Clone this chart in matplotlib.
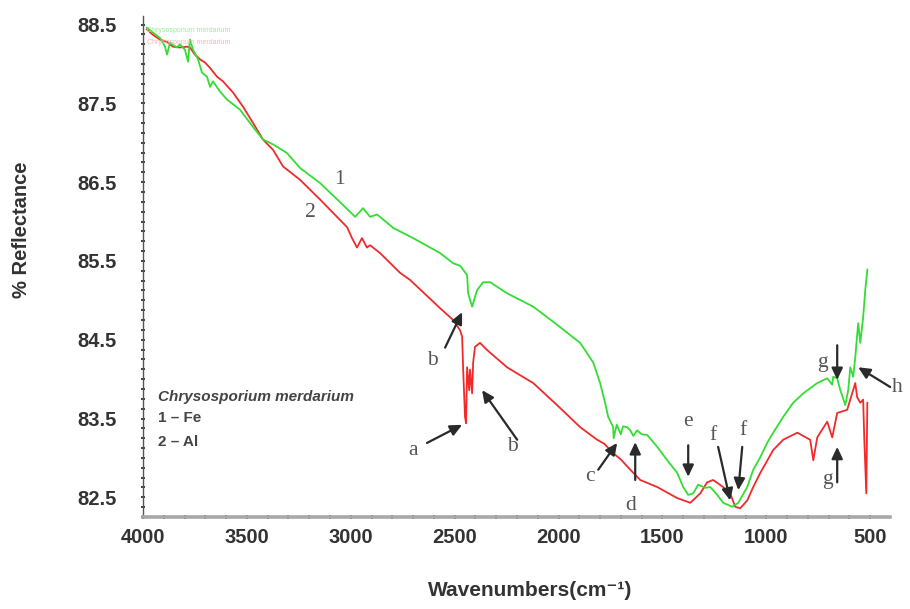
import matplotlib
matplotlib.use("Agg")
import matplotlib.pyplot as plt
from matplotlib.ticker import MultipleLocator

# ---- data ----
wn_fe = [3981, 3952, 3918, 3894, 3884, 3870, 3836, 3822, 3798, 3783, 3774, 3759, 3735, 3716,
         3692, 3677, 3663, 3629, 3596, 3533, 3470, 3422, 3374, 3307, 3244, 3148, 3037, 2979,
         2941, 2907, 2873, 2796, 2700, 2570, 2507, 2474, 2440, 2435, 2416, 2392, 2363, 2329,
         2248, 2122, 2007, 1896, 1833, 1800, 1776, 1761, 1737, 1735, 1720, 1700, 1690, 1670,
         1655, 1640, 1622, 1600, 1573, 1525, 1477, 1429, 1400, 1376, 1352, 1328, 1294, 1270,
         1236, 1208, 1164, 1135, 1092, 1063, 1029, 996, 967, 919, 871, 822, 755, 707, 683,
         678, 659, 644, 620, 606, 596, 582, 572, 558, 548, 534, 524, 514]
refl_fe = [88.46, 88.40, 88.33, 88.22, 88.12, 88.27, 88.21, 88.25, 88.18, 88.03, 88.31, 88.18,
           88.06, 87.89, 87.84, 87.71, 87.78, 87.65, 87.55, 87.42, 87.20, 87.04, 86.98, 86.87,
           86.68, 86.49, 86.21, 86.06, 86.17, 86.06, 86.09, 85.92, 85.79, 85.60, 85.47, 85.44,
           85.32, 85.09, 84.92, 85.13, 85.23, 85.23, 85.09, 84.92, 84.69, 84.46, 84.21, 83.95,
           83.70, 83.52, 83.39, 83.25, 83.42, 83.30, 83.40, 83.39, 83.35, 83.28, 83.35, 83.30,
           83.29, 83.14, 82.97, 82.81, 82.63, 82.53, 82.55, 82.66, 82.62, 82.63, 82.53, 82.43,
           82.38, 82.43, 82.63, 82.85, 83.01, 83.19, 83.32, 83.52, 83.70, 83.82, 83.95, 84.01,
           83.93, 84.03, 84.01, 83.86, 83.67, 83.86, 84.15, 84.03, 84.28, 84.71, 84.46, 84.79,
           85.13, 85.39]

wn_al = [3981, 3952, 3918, 3884, 3856, 3822, 3788, 3774, 3750, 3726, 3702, 3677, 3644, 3615,
         3567, 3519, 3470, 3422, 3374, 3326, 3244, 3148, 3018, 2994, 2970, 2946, 2922, 2907,
         2859, 2763, 2715, 2570, 2507, 2474, 2464, 2459, 2450, 2445, 2440, 2430, 2426, 2416,
         2411, 2402, 2378, 2344, 2248, 2122, 2007, 1896, 1850, 1814, 1780, 1737, 1700, 1655,
         1607, 1525, 1429, 1366, 1318, 1285, 1256, 1208, 1174, 1150, 1126, 1092, 1063, 1029,
         967, 919, 851, 789, 774, 755, 707, 683, 659, 611, 572, 563, 548, 534, 529, 519, 514]
refl_al = [88.44, 88.37, 88.31, 88.28, 88.22, 88.21, 88.22, 88.21, 88.12, 88.06, 88.02, 87.95,
           87.84, 87.78, 87.64, 87.46, 87.25, 87.04, 86.91, 86.70, 86.53, 86.28, 85.93, 85.79,
           85.67, 85.79, 85.67, 85.70, 85.60, 85.35, 85.26, 84.90, 84.75, 84.62, 84.54, 84.12,
           83.52, 83.44, 84.15, 83.86, 84.12, 83.82, 84.21, 84.41, 84.46, 84.37, 84.15, 83.95,
           83.67, 83.39, 83.30, 83.23, 83.18, 83.06, 82.98, 82.85, 82.72, 82.63, 82.49, 82.43,
           82.55, 82.69, 82.72, 82.63, 82.55, 82.38, 82.36, 82.46, 82.63, 82.81, 83.10, 83.23,
           83.32, 83.23, 82.97, 83.26, 83.46, 83.26, 83.57, 83.61, 83.95, 83.77, 83.70, 83.74,
           83.27, 82.55, 83.70]

x_ticks = [4000, 3500, 3000, 2500, 2000, 1500, 1000, 500]
y_ticks = [88.5, 87.5, 86.5, 85.5, 84.5, 83.5, 82.5]

# band labels: (letter, text position, arrow tail, arrow head) in data units
bands = [
    ("b", (2609, 84.24), (2546, 84.40), (2464, 84.85)),
    ("a", (2700, 83.10), (2633, 83.19), (2464, 83.42)),
    ("b", (2223, 83.14), (2199, 83.23), (2368, 83.86)),
    ("c", (1848, 82.76), (1809, 82.85), (1718, 83.19)),
    ("d", (1655, 82.40), (1631, 82.72), (1631, 83.20)),
    ("e", (1376, 83.46), (1376, 83.16), (1376, 82.76)),
    ("f", (1256, 83.29), (1232, 83.14), (1174, 82.46)),
    ("f", (1111, 83.35), (1116, 83.14), (1135, 82.59)),
    ("g", (731, 84.21), (659, 84.43), (659, 83.99)),
    ("g", (707, 82.72), (659, 82.69), (659, 83.14)),
    ("h", (370, 83.89), (404, 83.90), (558, 84.15)),
]

SANS = ["Liberation Sans", "DejaVu Sans"]
SERIF = ["Liberation Serif", "DejaVu Serif"]

fig = plt.figure(figsize=(9.10, 6.09), dpi=100)
ax = fig.add_axes([0.1571, 0.1511, 0.8209, 0.8227])

ax.plot(wn_fe, refl_fe, color="#33dd33", lw=1.3, zorder=3)
ax.plot(wn_al, refl_al, color="#f02a2a", lw=1.3, zorder=2)

ax.set_xlim(4000, 405)
ax.set_ylim(82.25, 88.61)

for s in ("top", "right"):
    ax.spines[s].set_visible(False)
ax.spines["bottom"].set_color("#a8a8a8")
ax.spines["bottom"].set_linewidth(2.6)
ax.spines["left"].set_color("#555555")
ax.spines["left"].set_linewidth(1.0)

ax.set_xticks(x_ticks)
ax.set_xticklabels([str(t) for t in x_ticks])
ax.set_yticks(y_ticks)
ax.set_yticklabels([f"{t:.1f}" for t in y_ticks])
ax.xaxis.set_minor_locator(MultipleLocator(100))
ax.yaxis.set_minor_locator(MultipleLocator(0.125))
ax.tick_params(axis="both", which="both", direction="inout", length=3.5, width=1.3,
               color="#333333")
ax.tick_params(axis="y", which="major", pad=17)
ax.tick_params(axis="x", which="major", pad=6)
for lab in ax.get_xticklabels() + ax.get_yticklabels():
    lab.set_family(SANS)
    lab.set_fontweight("bold")
    lab.set_fontsize(14.5)
    lab.set_color("#333333")

fig.text(530 / 910, 1 - 590 / 609, "Wavenumbers(cm\u207b\u00b9)", family=SANS,
         fontweight="bold", fontsize=15, color="#333333", ha="center", va="center")
fig.text(22 / 910, 1 - 230 / 609, "% Reflectance", family=SANS, fontweight="bold",
         fontsize=14.5, color="#333333", ha="center", va="center", rotation=90)

# curve numbers
ax.text(3052, 86.53, "1", family=SERIF, fontsize=15.5, color="#555555", ha="center", va="center")
ax.text(3196, 86.12, "2", family=SERIF, fontsize=15.5, color="#555555", ha="center", va="center")

# legend block
ax.text(3928, 83.77, "Chrysosporium merdarium", family=SANS, fontsize=11, fontweight="bold",
        style="italic", color="#444444", ha="left", va="center")
ax.text(3928, 83.51, "1 \u2013 Fe", family=SANS, fontsize=11, fontweight="bold",
        color="#444444", ha="left", va="center")
ax.text(3928, 83.20, "2 \u2013 Al", family=SANS, fontsize=11, fontweight="bold",
        color="#444444", ha="left", va="center")

# faint spectrum names at the top
ax.text(3981, 88.42, "Chrysosporium merdarium", family=SANS, fontsize=5, color="#99ee99",
        ha="left", va="center")
ax.text(3981, 88.27, "Chrysosporium merdarium", family=SANS, fontsize=5, color="#ffb0b0",
        ha="left", va="center")

for letter, tpos, tail, head in bands:
    ax.text(tpos[0], tpos[1], letter, family=SERIF, fontsize=15.5, color="#555555",
            ha="center", va="center", clip_on=False)
    ax.annotate("", xy=head, xytext=tail,
                arrowprops=dict(arrowstyle="-|>,head_length=0.7,head_width=0.33",
                                color="#2a2a2a", lw=1.6, shrinkA=0, shrinkB=0),
                annotation_clip=False)

fig.savefig("out.png", dpi=100, facecolor="white")
